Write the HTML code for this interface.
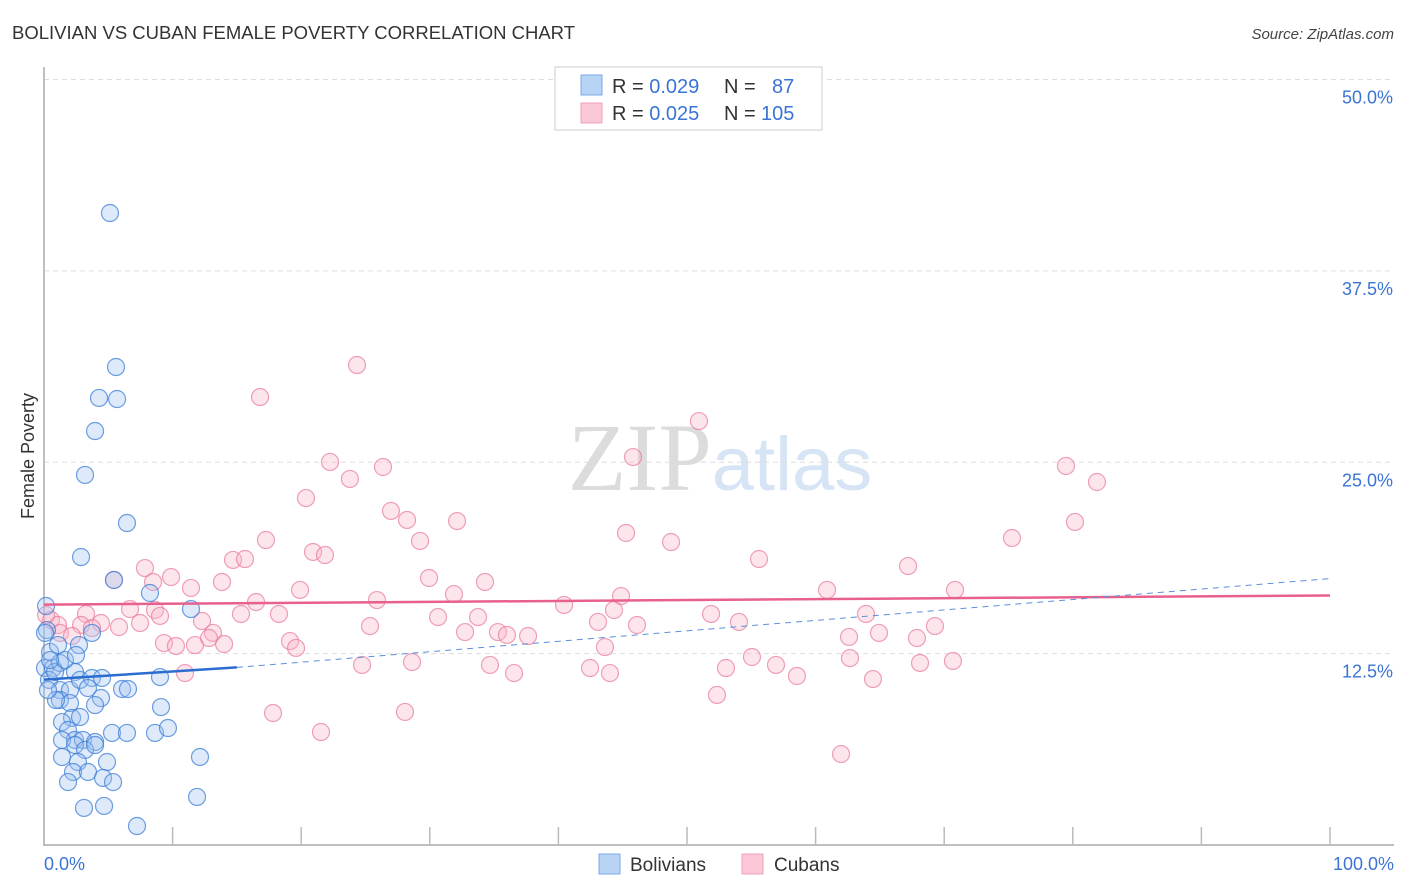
<!DOCTYPE html>
<html><head><meta charset="utf-8"><style>
body{margin:0;background:#fff;font-family:"Liberation Sans",sans-serif;}
svg{display:block}
</style></head><body>
<svg id="chart" width="1406" height="892" viewBox="0 0 1406 892">
<text x="12" y="39" font-size="18" fill="#333" textLength="563" lengthAdjust="spacingAndGlyphs">BOLIVIAN VS CUBAN FEMALE POVERTY CORRELATION CHART</text>
<text x="1394" y="39" font-size="15" fill="#444" font-style="italic" text-anchor="end">Source: ZipAtlas.com</text>
<text transform="translate(34,456) rotate(-90)" font-size="18" fill="#333" text-anchor="middle">Female Poverty</text>
<text x="720" y="490" font-size="96" text-anchor="middle" font-family="Liberation Serif,serif"><tspan fill="#dcdcdc">ZIP</tspan><tspan fill="#d6e4f5" font-family="Liberation Sans,sans-serif" font-size="76">atlas</tspan></text>
<g id="grid"></g><g id="axes"></g><g id="pink"></g><g id="blue"></g><g id="trends"></g>
<g>
<rect x="555" y="67" width="267" height="63" fill="#fff" stroke="#ccc"/>
<rect x="581" y="75" width="21" height="20" fill="#b9d3f5" stroke="#7aa8e6"/>
<rect x="581" y="103" width="21" height="20" fill="#fbc8d8" stroke="#f0a0b8"/>
<text x="612" y="93" font-size="20" fill="#333">R = <tspan fill="#3b74d4">0.029</tspan><tspan x="724">N = </tspan><tspan x="772" fill="#3b74d4">87</tspan></text>
<text x="612" y="120" font-size="20" fill="#333">R = <tspan fill="#3b74d4">0.025</tspan><tspan x="724">N = </tspan><tspan x="761" fill="#3b74d4">105</tspan></text>
</g>
<g>
<rect x="599" y="854" width="21" height="20" fill="#b9d3f5" stroke="#7aa8e6"/>
<text x="630" y="871" font-size="19" fill="#333">Bolivians</text>
<rect x="742" y="854" width="21" height="20" fill="#fbc8d8" stroke="#f0a0b8"/>
<text x="774" y="871" font-size="19" fill="#333">Cubans</text>
</g>
</svg>
<script>
const yTicks=[12.5,25,37.5,50];
const yTickLabels=["12.5%","25.0%","37.5%","50.0%"];
const xTickLabels=["0.0%","100.0%"];
const bluePx=[[110,213],[116,367],[99,398],[117,399],[95,431],[85,475],[127,523],[81,557],[114,580],[150,593],[191,609],[46,606],[47,630],[79,645],[92,633],[50,652],[45,668],[53,668],[60,663],[75,672],[49,680],[60,690],[70,690],[80,680],[92,678],[102,678],[88,688],[101,698],[95,705],[122,689],[128,689],[160,677],[161,707],[60,700],[70,703],[72,718],[80,717],[62,722],[68,730],[75,740],[83,740],[95,742],[112,733],[127,733],[155,733],[168,728],[62,740],[75,745],[85,750],[95,745],[62,757],[78,762],[107,762],[200,757],[73,772],[88,772],[103,778],[113,782],[68,782],[84,808],[104,806],[197,797],[137,826],[56,700],[48,690],[55,672],[65,660],[50,660],[58,645],[76,655],[45,633]];
const pinkPx=[[357,365],[260,397],[699,421],[633,457],[330,462],[383,467],[1066,466],[1097,482],[306,498],[350,479],[391,511],[407,520],[457,521],[1075,522],[626,533],[266,540],[420,541],[671,542],[1012,538],[313,552],[325,555],[233,560],[245,559],[145,568],[759,559],[171,577],[153,582],[114,580],[222,582],[429,578],[485,582],[191,588],[300,590],[908,566],[827,590],[955,590],[621,596],[454,594],[256,602],[377,600],[564,605],[614,610],[130,609],[155,610],[86,614],[160,616],[241,614],[279,614],[438,617],[478,617],[711,614],[866,614],[202,621],[101,623],[81,625],[140,623],[119,627],[637,625],[739,622],[935,626],[370,626],[598,622],[213,633],[465,632],[498,632],[507,635],[528,636],[164,643],[176,646],[195,645],[224,644],[290,641],[296,648],[209,638],[849,637],[879,633],[917,638],[51,620],[58,625],[60,633],[72,636],[92,628],[752,657],[850,658],[605,647],[362,665],[412,662],[490,665],[514,673],[590,668],[610,673],[726,668],[776,665],[797,676],[920,663],[953,661],[185,673],[873,679],[717,695],[273,713],[405,712],[321,732],[841,754],[46,615]];
const blueX=bluePx.map(p=>+((p[0]-44)/12.86).toFixed(2));
const blueY=bluePx.map(p=>+((845-p[1])/15.31).toFixed(2));
const pinkX=pinkPx.map(p=>+((p[0]-44)/12.86).toFixed(2));
const pinkY=pinkPx.map(p=>+((845-p[1])/15.31).toFixed(2));
const blueTrend=[10.8,11.6,17.4];
const pinkTrend=[15.7,16.3];
const X=v=>44+v*12.86, Y=v=>845-v*15.31;
const NS="http://www.w3.org/2000/svg";
function mk(tag,attrs,parent){const e=document.createElementNS(NS,tag);for(const k in attrs)e.setAttribute(k,attrs[k]);document.getElementById(parent).appendChild(e);return e;}
yTicks.forEach((t,i)=>{
 const l=mk('line',{x1:44,x2:1394,y1:Y(t),y2:Y(t),stroke:'#ddd','stroke-dasharray':'5,4'},'grid');
 
 
 const tx=mk('text',{x:1393,y:Y(t)+24,'font-size':18,fill:'#3b74d4','text-anchor':'end'},'grid');
 
 
 tx.textContent=yTickLabels[i];
});
let a=mk('line',{x1:44,x2:44,y1:67,y2:846,stroke:'#aaa','stroke-width':1.5},'axes');


a=mk('line',{x1:44,x2:1394,y1:845,y2:845,stroke:'#aaa','stroke-width':1.5},'axes');


for(let i=1;i<=10;i++){const t=mk('line',{x1:X(i*10),x2:X(i*10),y1:827,y2:845,stroke:'#bbb','stroke-width':1.5},'axes');
 
 }
[[0,'start',44],[100,'end',1394]].forEach((d,i)=>{const t=mk('text',{x:d[2],y:870,'font-size':18,fill:'#3b74d4','text-anchor':d[1]},'axes');
 
 
 t.textContent=xTickLabels[i];});
pinkX.forEach((x,i)=>{const c=mk('circle',{cx:X(x),cy:Y(pinkY[i]),r:8.5,fill:'rgba(248,180,200,0.35)',stroke:'rgba(232,120,155,0.7)','stroke-width':1.2},'pink');
 
 });
blueX.forEach((x,i)=>{const c=mk('circle',{cx:X(x),cy:Y(blueY[i]),r:8.5,fill:'rgba(160,195,240,0.35)',stroke:'rgba(60,125,215,0.75)','stroke-width':1.2},'blue');
 
 });
let t=mk('line',{x1:X(0),y1:Y(pinkTrend[0]),x2:X(100),y2:Y(pinkTrend[1]),stroke:'#e8608c','stroke-width':2.5},'trends');


t=mk('line',{x1:X(0),y1:Y(blueTrend[0]),x2:X(15),y2:Y(blueTrend[1]),stroke:'#2a6cd0','stroke-width':2.5},'trends');


t=mk('line',{x1:X(15),y1:Y(blueTrend[1]),x2:X(100),y2:Y(blueTrend[2]),stroke:'#5b8fdc','stroke-width':1,'stroke-dasharray':'6,5'},'trends');


</script>
</body></html>
